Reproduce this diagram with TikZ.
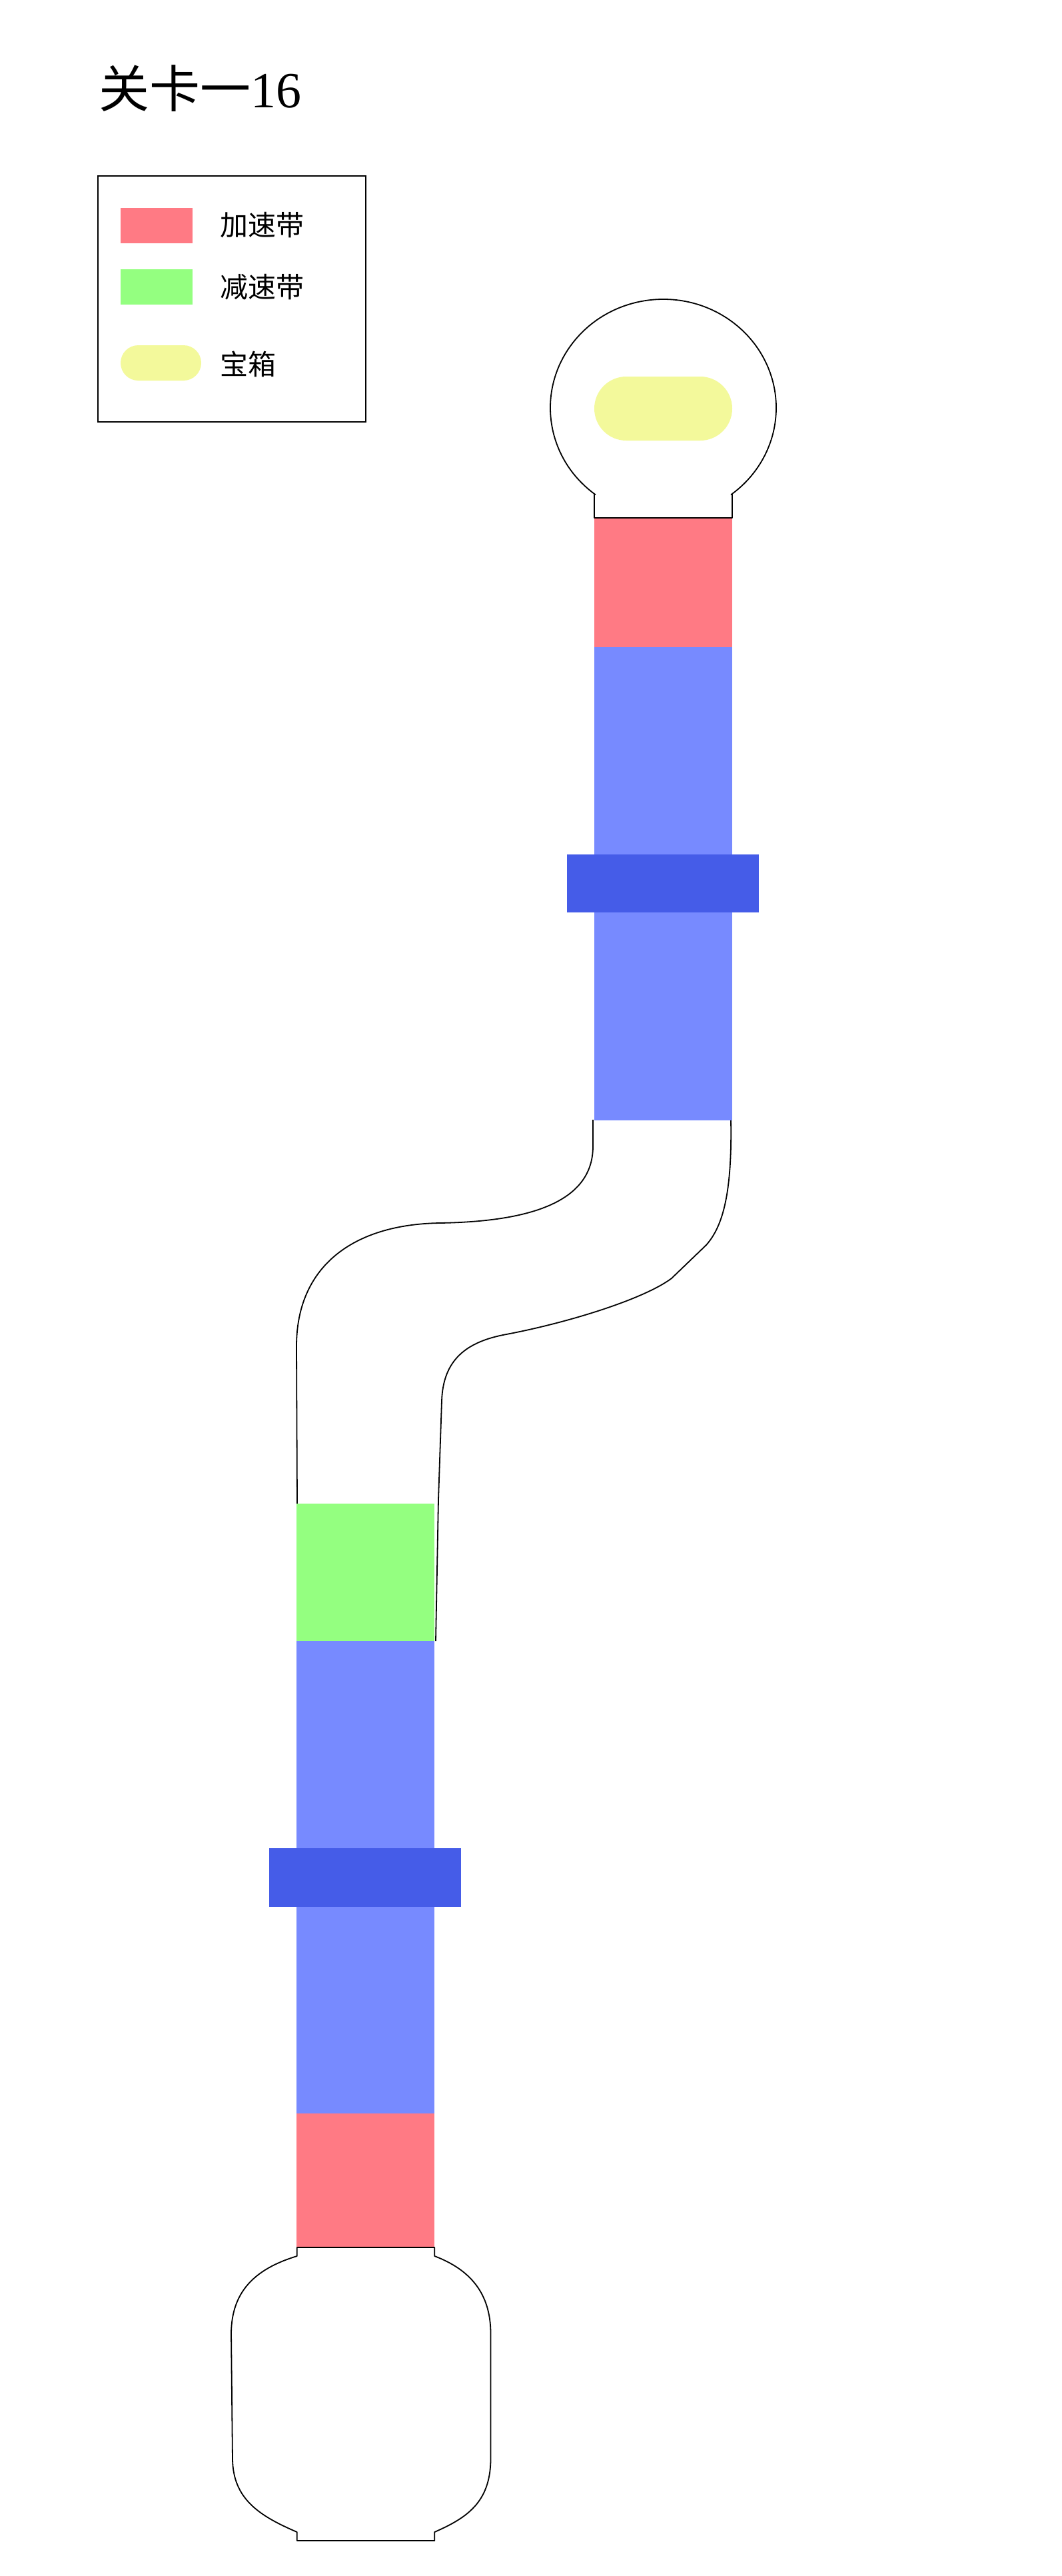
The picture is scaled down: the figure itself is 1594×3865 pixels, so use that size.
\documentclass[tikz,border=0pt]{standalone}
\usepackage{fontspec}
\setmainfont{Liberation Serif}
\newfontfamily\cjk{Noto Sans CJK SC}
\definecolor{accel}{RGB}{255,122,132}
\definecolor{decel}{RGB}{148,255,128}
\definecolor{lane}{RGB}{119,138,255}
\definecolor{gate}{RGB}{69,92,232}
\definecolor{chest}{RGB}{243,249,155}
\tikzset{
  outline/.style={draw=black,line width=1.8pt,line join=round},
  accelbox/.style={fill=accel,draw=none},
  decelbox/.style={fill=decel,draw=none},
  lanebox/.style={fill=lane,draw=none},
  gatebox/.style={fill=gate,draw=none},
  legendtext/.style={anchor=west,inner sep=0pt,font=\cjk\fontsize{42}{46}\selectfont},
}
\begin{document}
\begin{tikzpicture}[x=1pt,y=-1pt]
\useasboundingbox[fill=white] (0,0) rectangle (1594,3865);

% title
\node[anchor=base west,inner sep=0pt,font=\fontsize{76}{80}\selectfont] (title) at (148,161) {{\cjk 关卡一}16};

% legend
\draw[line width=1.8pt] (147,264) rectangle (549,633);
\fill[accelbox] (181,312) rectangle (289,365);
\fill[decelbox] (181,404) rectangle (289,457);
\fill[chest,rounded corners=26.5pt] (181,518) rectangle (302,571);
\node[legendtext] (lg1) at (330,338) {加速带};
\node[legendtext] (lg2) at (330,431) {减速带};
\node[legendtext] (lg3) at (330,546) {宝箱};

% top room
\draw[outline] (892,777) -- (892,742) -- (893.5,742)
  arc[start angle=233,end angle=-53,x radius=169.5pt,y radius=162.9pt]
  -- (1099,742) -- (1099,777) -- cycle;
\fill[chest,rounded corners=48pt] (892,565) rectangle (1099,661);

% S-bend
\draw[outline] (890,1680) -- (890,1720)
  .. controls (890,1810) and (780,1833) .. (660,1835)
  .. controls (530,1837) and (445,1900) .. (445,2020)
  -- (446,2256);
\draw[outline] (1097,1680)
  .. controls (1099,1790) and (1085,1840) .. (1060,1868)
  -- (1008,1918)
  .. controls (965,1950) and (850,1985) .. (760,2002)
  .. controls (700,2013) and (665,2040) .. (663,2102)
  -- (658,2250) -- (654,2462);

% bottom room
\draw[outline] (445.7,3372) -- (445.7,3385)
  .. controls (380,3405) and (348,3440) .. (347,3500)
  -- (349,3690)
  .. controls (350,3750) and (390,3775) .. (445.7,3799)
  -- (445.7,3812) -- (652.3,3812) -- (652.3,3799)
  .. controls (700,3778) and (736,3755) .. (736.5,3690)
  -- (736.5,3500)
  .. controls (736,3440) and (705,3405) .. (652.3,3385)
  -- (652.3,3372) -- cycle;

% upper column
\fill[accelbox] (892,778) rectangle (1099,971);
\fill[lanebox] (892,971) rectangle (1099,1681);
\fill[gatebox] (851,1282) rectangle (1139,1369);

% lower column
\fill[decelbox] (445,2256) rectangle (652,2462);
\fill[lanebox] (445,2462) rectangle (652,3171);
\fill[gatebox] (404,2773) rectangle (692,2861);
\fill[accelbox] (445,3171) rectangle (652,3371);
\end{tikzpicture}
\end{document}
